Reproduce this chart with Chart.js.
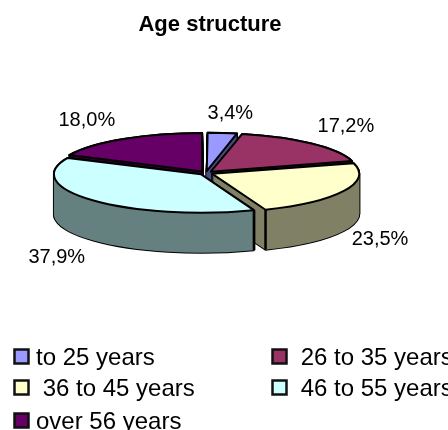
<!DOCTYPE html>
<html><head><meta charset="utf-8">
<style>html,body{margin:0;padding:0;background:#fff;overflow:hidden}canvas{display:block}</style>
<script src="https://cdn.jsdelivr.net/npm/chart.js@4"></script></head>
<body><canvas id="c" width="448" height="430"></canvas>
<script>
const titleText = 'Age structure';
const categories = ['to 25 years',' 26 to 35 years',' 36 to 45 years',' 46 to 55 years','over 56 years'];
const shares = [3.4,17.2,23.5,37.9,18.0];
const shareLabels = ['3,4%','17,2%','23,5%','37,9%','18,0%'];
const colors = ['#9999FF','#993366','#FFFFCC','#CCFFFF','#660066'];
const wallColors = ['#4C4C80','#4C1933','#808066','#668080','#330033'];
const wallOrder = [4,1,0,2,3];

const PIE = {x:206,y:173,r:147,squash:0.262,depth:40,explode:28};
const FONT = '"Liberation Sans", Arial, sans-serif';

function proxyArc(arc, over){
  const o = arc.options;
  const p = Object.create(arc);
  const offset = PIE.explode/4;
  const fix = 1 - Math.sin(Math.min(Math.PI, arc.circumference||0));
  p.outerRadius = arc.outerRadius - offset*fix;
  p.options = Object.assign({
    offset:o.offset,spacing:o.spacing,circular:true,borderAlign:'center',
    backgroundColor:o.backgroundColor,borderColor:'#000',borderWidth:2,
    borderJoinStyle:'round',borderDash:[],borderDashOffset:0
  }, over);
  return p;
}
const pie3d = {
  id:'pie3d',
  beforeDatasetsDraw(chart){
    const ctx = chart.ctx, arcs = chart.getDatasetMeta(0).data;
    const native = ctx.stroke;
    ctx.stroke = function(){ ctx.save(); ctx.setTransform(1,0,0,1,0,0); native.call(ctx); ctx.restore(); };
    const place = (arc,dy)=>{ ctx.setTransform(1,0,0,1,0,0); ctx.translate(PIE.x,PIE.y+dy); ctx.scale(1,PIE.squash); ctx.translate(-arc.x,-arc.y); };
    ctx.save();
    wallOrder.forEach(i=>{
      const arc = arcs[i];
      const edge = proxyArc(arc,{backgroundColor:'#000',borderWidth:2});
      for(let d=PIE.depth;d>=0;d--){ place(arc,d); edge.draw(ctx); }
      const fill = proxyArc(arc,{backgroundColor:wallColors[i],borderWidth:0});
      for(let d=PIE.depth;d>=0;d--){ place(arc,d); fill.draw(ctx); }
      // visible vertical corners of the wall
      ctx.setTransform(1,0,0,1,0,0);
      const mid=(arc.startAngle+arc.endAngle)/2, off=PIE.explode/4, R=edge.outerRadius+off*(1-Math.sin(Math.min(Math.PI,arc.circumference)));
      [arc.startAngle,arc.endAngle].forEach(a=>{
        if(Math.sin(a)<=0) return;
        const x=PIE.x+Math.cos(mid)*off+Math.cos(a)*R;
        const y=PIE.y+(Math.sin(mid)*off+Math.sin(a)*R)*PIE.squash;
        ctx.beginPath();ctx.moveTo(x,y);ctx.lineTo(x,y+PIE.depth);
        ctx.strokeStyle='#000';ctx.lineWidth=2.5;ctx.setLineDash([]);ctx.stroke();
      });
    });
    arcs.forEach(arc=>{ place(arc,0); proxyArc(arc,{}).draw(ctx); });
    ctx.restore();
    ctx.setTransform(1,0,0,1,0,0);
    delete ctx.stroke;

    // value labels: placed around the ellipse, with a small per-label nudge
    ctx.save();
    ctx.font='20px '+FONT;ctx.fillStyle='#000';ctx.textAlign='center';ctx.textBaseline='middle';
    const nudge=[[3,3],[3,-1],[-5,-2],[-3,2],[-12,1]];
    arcs.forEach((arc,i)=>{
      const a=(arc.startAngle+arc.endAngle)/2;
      const s=Math.sin(a);
      const lx=PIE.x+200*Math.cos(a)+nudge[i][0];
      const ly=PIE.y+63*s+(s>0?40:0)+nudge[i][1];
      ctx.fillText(shareLabels[i],lx,ly);
    });
    ctx.restore();

    // legend
    ctx.save();
    ctx.font='24px '+FONT;ctx.textBaseline='middle';ctx.textAlign='left';
    const colX=[14.5,272.5],rowY=[357,388,421];
    categories.forEach((t,i)=>{
      const c=i%2,r=Math.floor(i/2);
      ctx.fillStyle=colors[i];ctx.strokeStyle='#111';ctx.lineWidth=2.5;
      ctx.fillRect(colX[c],rowY[r]-7.5,14,14);ctx.strokeRect(colX[c],rowY[r]-7.5,14,14);
      ctx.fillStyle='#000';ctx.fillText(t,colX[c]+21.5,rowY[r]+1);
    });
    ctx.restore();
    return false;
  }
};
new Chart(document.getElementById('c'),{
  type:'pie',
  data:{labels:categories,datasets:[{data:shares,backgroundColor:colors,borderColor:'#000',borderWidth:2,offset:PIE.explode}]},
  options:{
    responsive:false,animation:false,radius:PIE.r,
    layout:{padding:{left:0,right:28,top:0,bottom:0}},
    plugins:{
      legend:{display:false},tooltip:{enabled:false},
      title:{display:true,text:titleText,color:'#000',font:{family:FONT,size:22,weight:'bold'},padding:{top:12,bottom:10}}
    }
  },
  plugins:[pie3d]
});
</script></body></html>
